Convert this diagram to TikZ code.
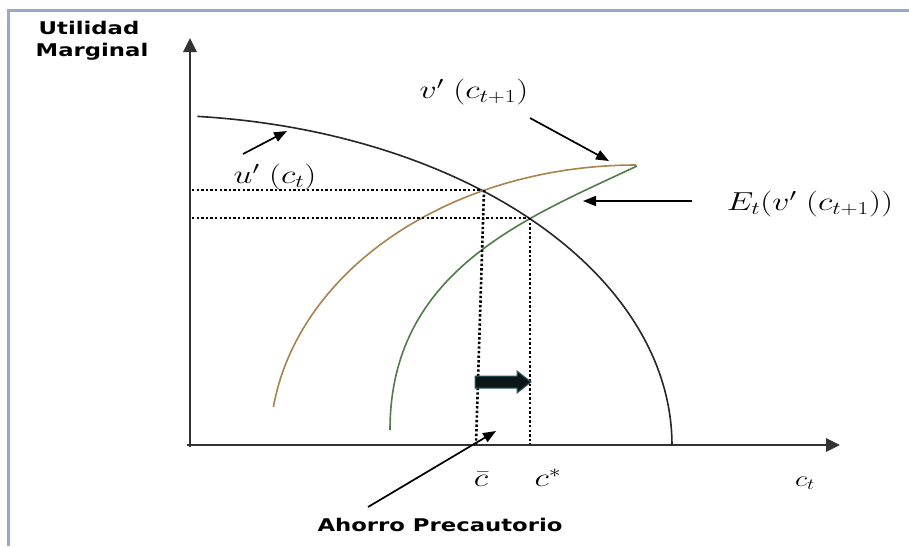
\RequirePackage{fix-cm}
\documentclass[tikz,border=0pt]{standalone}
\usepackage{fontspec}
\usepackage{graphicx}
\usetikzlibrary{arrows.meta}
\newfontfamily\dvs{DejaVu Sans}
\newcommand\hs[1]{\scalebox{1.3}[1]{#1}}
\definecolor{frameblue}{HTML}{95AACA}
\definecolor{ubrown}{HTML}{A8834E}
\definecolor{vgreen}{HTML}{4E7D48}
\definecolor{axisgray}{HTML}{333333}
\definecolor{blockfill}{HTML}{0B1616}
\definecolor{blockedge}{HTML}{2E5C6E}
\begin{document}
\begin{tikzpicture}[x=1pt,y=-1pt,
  axis/.style={axisgray, line width=2.6pt, -{Triangle[length=14pt,width=13pt]}},
  curve/.style={line width=1.6pt},
  dotline/.style={black, line width=2.6pt, dash pattern=on 2.4pt off 2.2pt},
  pointer/.style={black, line width=1.7pt, -{Triangle[length=13pt,width=10pt]}},
  mathlab/.style={inner sep=0pt, font=\fontsize{26}{30}\selectfont},
  boldlab/.style={inner sep=0pt, font=\dvs\bfseries\fontsize{17.5}{20}\selectfont}]
\useasboundingbox (0,0) rectangle (909,546);
\fill[white] (0,0) rectangle (909,546);
\draw[frameblue, line width=3pt] (8,546) -- (8,10) -- (909,10);

% axes
\coordinate (ybase) at (190,447);
\coordinate (ytip) at (190,38);
\coordinate (xbase) at (187,445);
\coordinate (xtip) at (840,445);
\draw[axis] (ybase) -- (ytip);
\draw[axis] (xbase) -- (xtip);

% curves
\draw[curve, black!85] plot[domain=84.8:0, samples=80] ({150+522*cos(\x)},{445-330*sin(\x)});
\draw[curve, ubrown] plot[domain=7.8:90, samples=80] ({636-366*cos(\x)},{445-280*sin(\x)});
\coordinate (gStart) at (390,430);
\coordinate (gEnd) at (637,166);
\draw[curve, vgreen] (gStart) .. controls (390,270) and (527,218) .. (gEnd);

% dotted guides
\coordinate (A) at (480,190);
\coordinate (B) at (528,218);
\coordinate (Ay) at (192,190);
\coordinate (By) at (192,218);
\coordinate (Atop) at (484,190);
\coordinate (Abot) at (476,444);
\coordinate (Btop) at (530,218);
\coordinate (Bbot) at (530,444);
\draw[dotline] (Ay) -- (A);
\draw[dotline] (By) -- (B);
\draw[dotline] (Atop) -- (Abot);
\draw[dotline] (Btop) -- (Bbot);

% block arrow
\draw[blockedge, fill=blockfill, line width=1pt, line join=miter]
  (475,376) -- (517,376) -- (517,371) -- (531,382) -- (517,393) -- (517,388) -- (475,388) -- cycle;

% labels
\node[boldlab] (t1) at (89,28) {\hs{Utilidad}};
\node[boldlab] (t2) at (92,52) {\hs{Marginal}};
\node[mathlab] (ulab) at (275,177) {\hs{$u'\;(c_t)$}};
\node[mathlab] (vlab) at (474,92) {\hs{$v'\;(c_{t+1})$}};
\node[mathlab] (elab) at (810,204) {\hs{$E_t(v'\;(c_{t+1}))$}};
\node[mathlab] (cbar) at (481,479) {\hs{$\bar{c}$}};
\node[mathlab] (cstar) at (548,478) {\hs{$c^{*}$}};
\node[mathlab, font=\fontsize{22}{26}\selectfont] (ct) at (805,483) {\hs{$c_t$}};
\node[boldlab] (ahorro) at (440,525) {\hs{Ahorro Precautorio}};

% pointer arrows
\coordinate (uTail) at (243,154);
\coordinate (uHead) at (287,131);
\coordinate (vTail) at (530,118);
\coordinate (vHead) at (609,161);
\coordinate (eTail) at (692,201);
\coordinate (eHead) at (583,201);
\coordinate (aTail) at (368,507);
\coordinate (aHead) at (496,431);
\draw[pointer] (uTail) -- (uHead);
\draw[pointer] (vTail) -- (vHead);
\draw[pointer] (eTail) -- (eHead);
\draw[pointer] (aTail) -- (aHead);
\end{tikzpicture}
\end{document}
